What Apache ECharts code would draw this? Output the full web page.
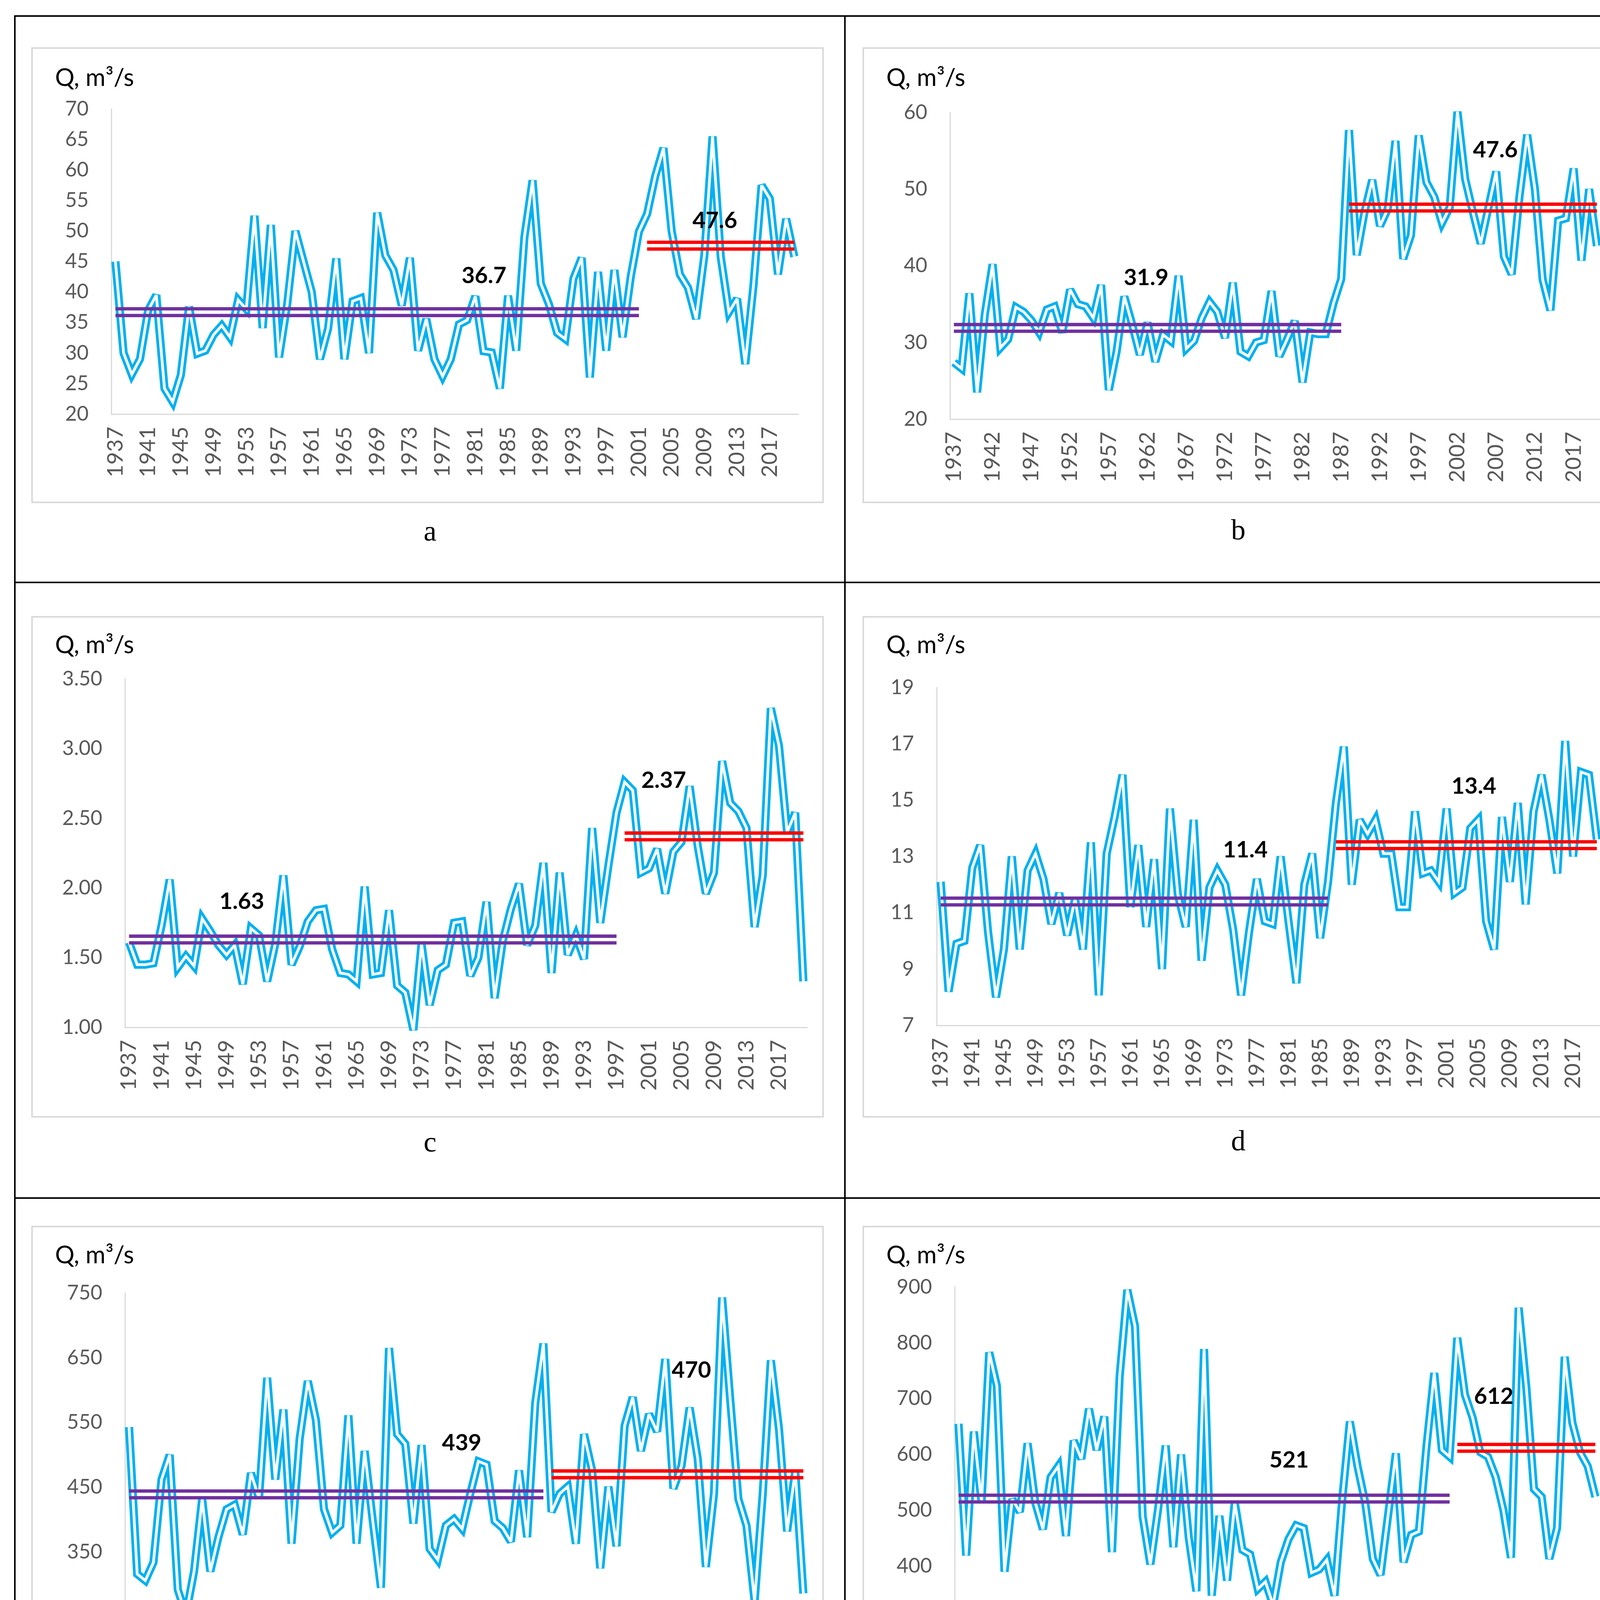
<!DOCTYPE html>
<html><head><meta charset="utf-8">
<script src="https://cdn.jsdelivr.net/npm/echarts@6/dist/echarts.min.js"></script>
<style>html,body{margin:0;padding:0;background:#fff}#c{width:4217px;height:4604px}</style>
</head><body><div id="c"></div>
<script>
// ---------- DATA ----------
const years = ['1937','1938','1939','1940','1941','1942','1943','1944','1945','1946','1947','1948','1949','1950','1951','1952','1953','1954','1955','1956','1957','1958','1959','1960','1961','1962','1963','1964','1965','1966','1967','1968','1969','1970','1971','1972','1973','1974','1975','1976','1977','1978','1979','1980','1981','1982','1983','1984','1985','1986','1987','1988','1989','1990','1991','1992','1993','1994','1995','1996','1997','1998','1999','2000','2001','2002','2003','2004','2005','2006','2007','2008','2009','2010','2011','2012','2013','2014','2015','2016','2017','2018','2019','2020'];

const qA = [45,30,26.5,29,37,39.5,24.2,22,26.4,37.6,29.9,30.4,33,34.5,32.6,38.7,37.2,52.5,34.1,51,29.3,38,50,45,40,29,34,45.5,29,38.5,39,30,53,46,43.6,37.8,45.6,30.4,35.6,29,26.2,29,34.7,35.4,39.3,30.3,30.1,24.2,39.4,30.4,49,58.3,41.4,38,33.3,32.3,42.2,45.6,26,43.3,30.4,43.6,32.6,42.5,49.9,52.8,59,63.6,50,42.9,40.7,35.6,46,65.5,45.8,36.7,38.9,28.2,41,57.5,55.3,42.9,52,45.8];
const qB = [27.4,26.6,36.4,23.5,33.7,40.2,29.3,30.4,34.6,34,32.9,31.3,34.3,34.7,31.3,36.9,35,34.7,33.2,37.5,23.8,28.8,36,32.4,28.4,32.6,27.5,31,30.2,38.7,29.2,30.2,33.2,35.3,34,30.6,37.8,28.8,28.2,30,30.3,36.7,28.2,30.4,32.8,24.8,31.3,31.1,31.1,35.1,38.3,57.7,41.4,47,51.2,45.2,47.4,56.3,40.9,44,57,50.9,49,45.6,47.6,60.1,51.3,47,42.9,47.6,52.3,41.2,38.9,49,57.1,50,38.2,34.2,45.9,46.2,52.7,40.7,50,42.6];
const qC = [1.61,1.45,1.45,1.46,1.73,2.06,1.43,1.51,1.44,1.78,1.69,1.59,1.52,1.59,1.31,1.71,1.66,1.33,1.6,2.09,1.45,1.58,1.76,1.84,1.85,1.56,1.39,1.38,1.33,2.01,1.38,1.39,1.84,1.30,1.25,0.98,1.60,1.16,1.41,1.45,1.75,1.76,1.37,1.5,1.90,1.21,1.62,1.85,2.03,1.59,1.73,2.18,1.39,2.11,1.52,1.66,1.49,2.43,1.75,2.16,2.54,2.76,2.70,2.11,2.14,2.28,1.96,2.26,2.33,2.73,2.3,1.96,2.11,2.91,2.61,2.55,2.43,1.72,2.09,3.29,3.02,2.40,2.54,1.33];
const qD = [12.1,8.2,9.9,10.0,12.6,13.4,10.3,8.0,9.7,13.0,9.7,12.5,13.1,12.2,10.6,11.7,10.2,11.5,9.7,13.5,8.07,13.1,14.4,15.9,11.2,13.4,10.5,12.9,9.0,14.7,11.65,10.5,14.3,9.3,11.9,12.5,12.0,10.4,8.07,10.3,12.2,10.7,10.6,13.0,10.7,8.5,12.0,13.1,10.1,12.1,14.9,16.9,12.0,14.3,13.8,14.3,13.1,13.1,11.2,11.2,14.6,12.4,12.5,12.1,14.7,11.7,11.9,14.0,14.3,10.7,9.7,14.4,12.1,14.9,11.3,14.6,15.9,14.3,12.4,17.1,13.0,16.0,15.9,13.6];
const qE = [543,316,306,334,462,500,292,253,320,432,320,373,416,423,377,472,433,619,462,570,363,525,614,554,416,380,391,561,363,506,398,295,665,532,517,394,515,355,338,391,401,386,440,490,485,398,387,366,476,373,580,672,412,440,451,363,532,476,325,451,359,545,589,506,563,536,648,448,483,573,494,327,440,743,585,432,391,274,440,646,540,382,475,286];
const qF = [655,419,641,514,783,723,390,520,497,620,514,466,559,579,454,625,592,682,608,668,425,740,895,830,489,403,501,616,434,600,452,355,789,347,490,374,514,429,421,359,372,330,407,448,473,468,388,394,411,347,518,659,579,514,413,384,493,602,407,456,462,616,746,608,596,809,707,666,604,596,560,501,415,863,720,538,524,413,468,775,657,604,579,524];

// means (before, after) and their periods
const meanA = [36.7, 47.6];  const periodA = [['1937','2001'], ['2002','2020']];
const meanB = [31.9, 47.6];  const periodB = [['1937','1987'], ['1988','2020']];
const meanC = [1.63, 2.37];  const periodC = [['1937','1997'], ['1998','2020']];
const meanD = [11.4, 13.4];  const periodD = [['1937','1986'], ['1987','2020']];
const meanE = [439, 470];    const periodE = [['1937','1988'], ['1989','2020']];
const meanF = [521, 612];    const periodF = [['1937','2001'], ['2002','2020']];

// y-axis tick labels
const ticksA = [20,25,30,35,40,45,50,55,60,65,70];
const ticksB = [20,30,40,50,60];
const ticksC = [1.00,1.50,2.00,2.50,3.00,3.50];
const ticksD = [7,9,11,13,15,17,19];
const ticksE = [250,350,450,550,650,750];
const ticksF = [300,400,500,600,700,800,900];

const panelLetters = ['a','b','c','d','e','f'];
const titleText = 'Q, m\u00B3/s';

// ---------- LAYOUT ----------
const panels = [
  {q:qA, mean:meanA, per:periodA, ticks:ticksA, step:5,   dec:0, xi:3, grid:{left:285, top:279, width:1759, height:781},
   box:[82,123,2107,1286], title:[141,200], letter:[1101,1365], lab:[[1239,706],[1830,565]]},
  {q:qB, mean:meanB, per:periodB, ticks:ticksB, step:10,  dec:0, xi:4, grid:{left:2432, top:288, width:1666, height:785},
   box:[2210,123,4138,1286], title:[2269,200], letter:[3170,1362], lab:[[2934,711],[3828,384]]},
  {q:qC, mean:meanC, per:periodC, ticks:ticksC, step:0.5, dec:2, xi:3, grid:{left:320, top:1738, width:1747, height:892},
   box:[82,1579,2107,2859], title:[141,1652], letter:[1101,2929], lab:[[619,2308],[1699,1998]]},
  {q:qD, mean:meanD, per:periodD, ticks:ticksD, step:1,   dec:0, xi:3, grid:{left:2398, top:1760, width:1700, height:865},
   box:[2210,1579,4138,2859], title:[2269,1652], letter:[3170,2926], lab:[[3188,2176],[3773,2013]]},
  {q:qE, mean:meanE, per:periodE, ticks:ticksE, step:50,  dec:0, xi:3, grid:{left:320, top:3310, width:1747, height:829},
   box:[82,3140,2107,4379], title:[141,3214], letter:[1101,4447], lab:[[1182,3694],[1770,3508]]},
  {q:qF, mean:meanF, per:periodF, ticks:ticksF, step:100, dec:0, xi:4, grid:{left:2444, top:3295, width:1650, height:857},
   box:[2210,3140,4138,4379], title:[2269,3214], letter:[3170,4441], lab:[[3300,3738],[3824,3575]]}
];

const FONT = 'Lato';
const BLUE = '#00B0F0', PURPLE = '#7030A0', RED = '#FF0000', AXIS = '#D9D9D9', TXT = '#595959';

const grids = [], xAxes = [], yAxes = [], series = [], graphics = [];

panels.forEach((p, k) => {
  grids.push(Object.assign({containLabel:false}, p.grid));
  xAxes.push({
    type:'category', gridIndex:k, data:years, boundaryGap:true,
    axisLine:{show:true, lineStyle:{color:AXIS, width:3}}, axisTick:{show:false},
    axisLabel:{interval:p.xi, rotate:90, margin:32, fontSize:56, color:TXT, fontFamily:FONT},
    splitLine:{show:false}
  });
  const tickSet = p.ticks.map(t => t.toFixed(p.dec));
  yAxes.push({
    type:'value', gridIndex:k, min:p.ticks[0], max:p.ticks[p.ticks.length-1], interval:p.step,
    axisLine:{show:true, lineStyle:{color:AXIS, width:3}}, axisTick:{show:false}, splitLine:{show:false},
    axisLabel:{margin:58, fontSize:52, color:TXT, fontFamily:FONT,
      formatter: v => { const s = Number(v).toFixed(p.dec); return tickSet.indexOf(s) >= 0 ? s : ''; }}
  });
  // blue double line (outer stroke + white core)
  series.push({type:'line', xAxisIndex:k, yAxisIndex:k, data:p.q, symbol:'none', clip:false, silent:true, z:2,
    lineStyle:{color:BLUE, width:21, join:'miter', miterLimit:3}});
  series.push({type:'line', xAxisIndex:k, yAxisIndex:k, data:p.q, symbol:'none', clip:false, silent:true, z:3,
    lineStyle:{color:'#FFFFFF', width:7, join:'miter', miterLimit:3}});
  // mean double lines
  series.push({
    type:'custom', xAxisIndex:k, yAxisIndex:k, clip:false, silent:true, z:5,
    encode:{x:[0,1], y:2},
    data:[[p.per[0][0], p.per[0][1], p.mean[0]], [p.per[1][0], p.per[1][1], p.mean[1]]],
    renderItem:(params, api) => {
      const v = api.value(2);
      const a = api.coord([api.value(0), v]);
      const b = api.coord([api.value(1), v]);
      const col = params.dataIndex === 0 ? PURPLE : RED;
      const g = 8.6;
      return {type:'group', children:[
        {type:'line', shape:{x1:a[0], y1:a[1]-g, x2:b[0], y2:b[1]-g}, style:{stroke:col, lineWidth:8.6}},
        {type:'line', shape:{x1:a[0], y1:a[1]+g, x2:b[0], y2:b[1]+g}, style:{stroke:col, lineWidth:8.6}}
      ]};
    }
  });
  // chart area border
  const [x1,y1,x2,y2] = p.box;
  graphics.push({type:'rect', shape:{x:x1, y:y1, width:x2-x1, height:y2-y1}, style:{fill:null, stroke:AXIS, lineWidth:4}, z:1});
  // title
  graphics.push({type:'text', x:p.title[0], y:p.title[1], style:{text:titleText, font:'62px ' + FONT, fill:'#000', textVerticalAlign:'middle', textAlign:'left'}, z:10});
  // panel letter
  graphics.push({type:'text', x:p.letter[0], y:p.letter[1], style:{text:panelLetters[k], font:'74px "Liberation Serif"', fill:'#000', textAlign:'center', textVerticalAlign:'middle'}, z:10});
  // mean labels
  p.lab.forEach((pos, j) => {
    graphics.push({type:'text', x:pos[0], y:pos[1], style:{text:String(p.mean[j]), font:'bold 58px ' + FONT, fill:'#000', textAlign:'center', textVerticalAlign:'middle'}, z:10});
  });
});

// table frame
const TB = {l:38, t:41, r:4179, b:4567, vx:2163, h1:1491, h2:3067};
graphics.push({type:'rect', shape:{x:TB.l, y:TB.t, width:TB.r-TB.l, height:TB.b-TB.t}, style:{fill:null, stroke:'#000', lineWidth:4}, z:1});
graphics.push({type:'line', shape:{x1:TB.vx, y1:TB.t, x2:TB.vx, y2:TB.b}, style:{stroke:'#000', lineWidth:4}, z:1});
graphics.push({type:'line', shape:{x1:TB.l, y1:TB.h1, x2:TB.r, y2:TB.h1}, style:{stroke:'#000', lineWidth:4}, z:1});
graphics.push({type:'line', shape:{x1:TB.l, y1:TB.h2, x2:TB.r, y2:TB.h2}, style:{stroke:'#000', lineWidth:4}, z:1});

const chart = echarts.init(document.getElementById('c'), null, {renderer:'canvas'});
chart.setOption({
  animation:false, backgroundColor:'#fff',
  grid:grids, xAxis:xAxes, yAxis:yAxes, series:series, graphic:graphics
});
</script></body></html>
